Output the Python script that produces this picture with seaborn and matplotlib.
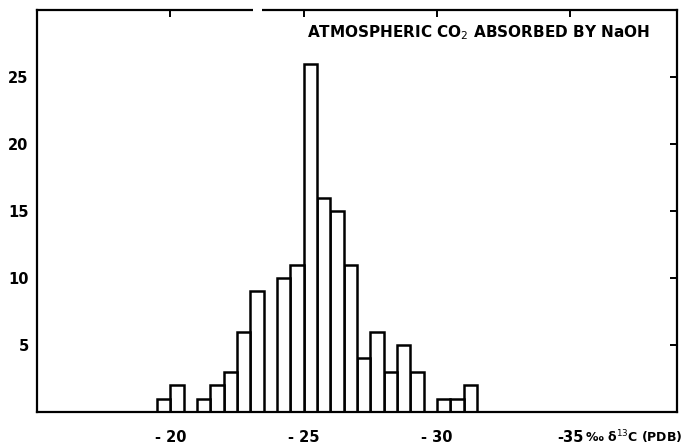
import numpy as np
import pandas as pd
import matplotlib
matplotlib.use("Agg")
import matplotlib.pyplot as plt
import seaborn as sns

# delta-13C bins (per mil, PDB), 0.5 wide, from -19.5 down to -31.5
bin_edges = [-19.5, -20.0, -20.5, -21.0, -21.5, -22.0, -22.5, -23.0, -23.5,
             -24.0, -24.5, -25.0, -25.5, -26.0, -26.5, -27.0, -27.5, -28.0,
             -28.5, -29.0, -29.5, -30.0, -30.5, -31.0, -31.5]
counts = [1, 2, 0, 1, 2, 3, 6, 9, 0, 10, 11, 26, 16, 15, 11, 4, 6, 3, 5, 3,
          0, 1, 1, 2]
x_ticks = [-20, -25, -30, -35]
x_tick_labels = ["- 20", "- 25", "- 30", "-35"]
y_ticks = [5, 10, 15, 20, 25]
title_text = "ATMOSPHERIC CO$_2$ ABSORBED BY NaOH"
unit_text = "‰ δ$^{13}$C (PDB)"

edges_sorted = sorted(bin_edges)
centres = [(a + b) / 2 for a, b in zip(bin_edges[:-1], bin_edges[1:])]
df = pd.DataFrame({"d13c": centres, "n": counts})

sns.set_style("white")
plt.rcParams["font.family"] = ["DejaVu Sans"]
plt.rcParams["text.color"] = "black"
plt.rcParams["xtick.color"] = "black"
plt.rcParams["ytick.color"] = "black"

fig = plt.figure(figsize=(6.89, 4.47), dpi=100)
ax = fig.add_axes([37 / 689, 1 - 412 / 447, 640 / 689, 402 / 447])

sns.histplot(data=df, x="d13c", weights="n", bins=edges_sorted,
             color="white", edgecolor="black", linewidth=1.8, alpha=1,
             ax=ax)

ax.set_xlim(-15, -39)
ax.set_ylim(0, 30)
ax.set_xlabel("")
ax.set_ylabel("")

ax.set_xticks(x_ticks)
ax.set_xticklabels(x_tick_labels, fontsize=10.5, fontweight="bold")
ax.set_yticks(y_ticks)
ax.set_yticklabels([str(v) for v in y_ticks], fontsize=10.5, fontweight="bold")
ax.tick_params(axis="both", direction="out", length=4, width=1.4,
               color="black")
ax.tick_params(axis="x", pad=9)
ax.tick_params(axis="y", pad=2)

# inward ticks on the upper and right frame lines
top = ax.secondary_xaxis("top")
top.set_xticks(x_ticks)
top.tick_params(direction="in", length=5, width=1.4, labeltop=False)
right = ax.secondary_yaxis("right")
right.set_yticks(y_ticks)
right.tick_params(direction="in", length=5, width=1.4, labelright=False)
for sec in (top, right):
    for s in sec.spines.values():
        s.set_visible(False)

for s in ax.spines.values():
    s.set_visible(True)
    s.set_color("black")
    s.set_linewidth(1.6)

ax.text(-38.0, 28.3, title_text, ha="right", va="center",
        fontsize=11, fontweight="bold")
ax.text(-35.55, -1.85, unit_text, ha="left", va="center",
        fontsize=9, fontweight="bold", clip_on=False)

# small break in the upper frame line
ax.plot([-23.1, -23.45], [30, 30], color="white", lw=3,
        solid_capstyle="butt", clip_on=False, zorder=10)

fig.savefig("out.png", dpi=100)
